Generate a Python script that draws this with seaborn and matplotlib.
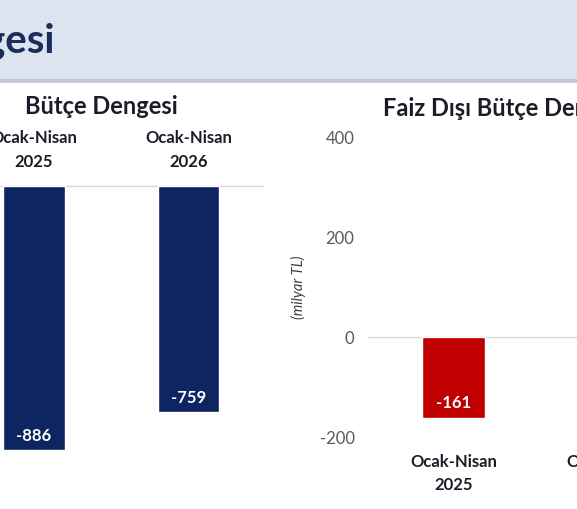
import matplotlib
matplotlib.use("Agg")
import matplotlib.pyplot as plt
import seaborn as sns
from matplotlib.patches import Rectangle

sns.set_theme(style="white")
plt.rcParams['font.family'] = ['Lato', 'DejaVu Sans']

# ---- data ----
banner_title = "Bütçe Dengesi"
left_title = "Bütçe Dengesi"
right_title = "Faiz Dışı Bütçe Dengesi"
periods = ["Ocak-Nisan", "Ocak-Nisan"]
years = ["2025", "2026"]
budget_balance = [-886, -759]
primary_balance = [-161, 390]
primary_colors = ["#c00000", "#0d2560"]
right_yticks = [-200, 0, 200, 400]
y_unit = "(milyar TL)"

W, H = 577, 510
fig = plt.figure(figsize=(W / 100, H / 100), dpi=100)
fig.patch.set_facecolor("white")

def fx(px):
    return px / W

def fy(py):
    return 1 - py / H

def ax_rect(left, top, right, bottom):
    return [fx(left), fy(bottom), fx(right) - fx(left), (bottom - top) / H]

# ---- banner ----
fig.patches.append(Rectangle((0, fy(81)), 1, 1 - fy(81), transform=fig.transFigure,
                             facecolor="#dce4f0", edgecolor="none", zorder=0))
fig.patches.append(Rectangle((0, fy(84)), 1, (84 - 80) / H, transform=fig.transFigure,
                             facecolor="#c3c9d4", edgecolor="none", zorder=0))
fig.text(fx(55), fy(53), banner_title, ha="right", va="baseline", fontsize=29,
         fontweight="bold", color="#1b2d5c")

text_dark = "#1c1c28"
xpos = list(range(len(years)))

# ---- left panel ----
unitL = 154.5
c0L = 34
axL = fig.add_axes(ax_rect(c0L - 0.5 * unitL, 187, c0L + 1.48 * unitL, 187 + 1000 * 0.298))
sns.barplot(x=xpos, y=budget_balance, color="#0d2560",
            width=0.4, saturation=1, ax=axL, native_scale=True)
axL.set_xlim(-0.5, 1.48)
axL.set_ylim(-1000, 0)
axL.axhline(0, color="#d9d9d9", lw=1, clip_on=False, zorder=0)
for i, v in enumerate(budget_balance):
    axL.annotate(f"{v}", xy=(i, v), xytext=(0, 15), textcoords="offset pixels",
                 ha="center", va="center", color="white", fontsize=12, fontweight="bold")
    axL.annotate(periods[i], xy=(i, 0), xytext=(0, 49), textcoords="offset pixels",
                 ha="center", va="center", color=text_dark, fontsize=12,
                 fontweight="bold", annotation_clip=False)
    axL.annotate(years[i], xy=(i, 0), xytext=(0, 25), textcoords="offset pixels",
                 ha="center", va="center", color=text_dark, fontsize=12,
                 fontweight="bold", annotation_clip=False)
axL.axis("off")
fig.text(fx(101), fy(107), left_title, ha="center", va="center", fontsize=17,
         fontweight="bold", color=text_dark)

# ---- right panel ----
unitR = 156
c0R = 453.5
axR = fig.add_axes(ax_rect(c0R - 0.55 * unitR, 138, c0R + 1.5 * unitR, 438))
sns.barplot(x=xpos, y=primary_balance, hue=xpos,
            palette=primary_colors, legend=False, width=0.4, saturation=1, ax=axR,
            native_scale=True)
axR.set_xlim(-0.55, 1.5)
axR.set_ylim(-200, 400)
axR.set_yticks(right_yticks)
axR.set_yticklabels([str(t) for t in right_yticks])
axR.tick_params(axis="y", length=0, pad=9.5, labelsize=12, labelcolor="#595959")
axR.set_xticks([])
for s in axR.spines.values():
    s.set_visible(False)
axR.axhline(0, color="#d9d9d9", lw=1, zorder=0)
for i, v in enumerate(primary_balance):
    if v < 0:
        axR.annotate(f"{v}", xy=(i, v), xytext=(0, 15), textcoords="offset pixels",
                     ha="center", va="center", color="white", fontsize=12,
                     fontweight="bold")
    axR.annotate(periods[i], xy=(i, -200), xytext=(0, -24), textcoords="offset pixels",
                 ha="center", va="center", color=text_dark, fontsize=12,
                 fontweight="bold", annotation_clip=False)
    axR.annotate(years[i], xy=(i, -200), xytext=(0, -47), textcoords="offset pixels",
                 ha="center", va="center", color=text_dark, fontsize=12,
                 fontweight="bold", annotation_clip=False)
axR.set_facecolor("none")
fig.text(fx(298), fy(287), y_unit, rotation=90, ha="center", va="center", fontsize=10.5,
         style="italic", color="#404040")
fig.text(fx(383), fy(108), right_title, ha="left", va="center", fontsize=17,
         fontweight="bold", color=text_dark)

fig.savefig("out.png", dpi=100, facecolor="white")
